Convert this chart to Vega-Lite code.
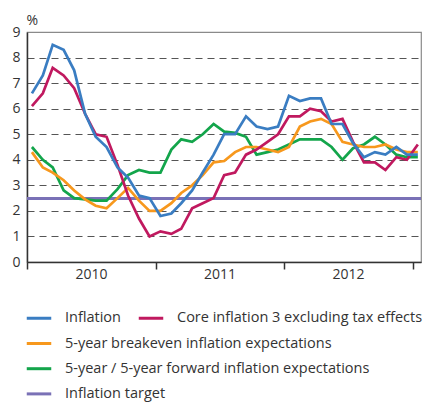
{
  "$schema": "https://vega.github.io/schema/vega-lite/v6.json",
  "width": 394,
  "height": 230,
  "autosize": {"type": "none"},
  "padding": {"left": 27, "top": 32, "right": 6, "bottom": 141},
  "config": {
    "font": "Open Sans",
    "view": {"stroke": "#8a8a8a", "strokeWidth": 1.2}
  },
  "datasets": {
    "series": [
      {"d": "2010-01-15", "s": "Core inflation 3 excluding tax effects", "v": 6.1},
      {"d": "2010-02-15", "s": "Core inflation 3 excluding tax effects", "v": 6.6},
      {"d": "2010-03-15", "s": "Core inflation 3 excluding tax effects", "v": 7.6},
      {"d": "2010-04-15", "s": "Core inflation 3 excluding tax effects", "v": 7.3},
      {"d": "2010-05-15", "s": "Core inflation 3 excluding tax effects", "v": 6.8},
      {"d": "2010-06-15", "s": "Core inflation 3 excluding tax effects", "v": 5.8},
      {"d": "2010-07-15", "s": "Core inflation 3 excluding tax effects", "v": 5.0},
      {"d": "2010-08-15", "s": "Core inflation 3 excluding tax effects", "v": 4.9},
      {"d": "2010-09-15", "s": "Core inflation 3 excluding tax effects", "v": 3.8},
      {"d": "2010-10-15", "s": "Core inflation 3 excluding tax effects", "v": 2.6},
      {"d": "2010-11-15", "s": "Core inflation 3 excluding tax effects", "v": 1.7},
      {"d": "2010-12-15", "s": "Core inflation 3 excluding tax effects", "v": 1.0},
      {"d": "2011-01-15", "s": "Core inflation 3 excluding tax effects", "v": 1.2},
      {"d": "2011-02-15", "s": "Core inflation 3 excluding tax effects", "v": 1.1},
      {"d": "2011-03-15", "s": "Core inflation 3 excluding tax effects", "v": 1.3},
      {"d": "2011-04-15", "s": "Core inflation 3 excluding tax effects", "v": 2.1},
      {"d": "2011-05-15", "s": "Core inflation 3 excluding tax effects", "v": 2.3},
      {"d": "2011-06-15", "s": "Core inflation 3 excluding tax effects", "v": 2.5},
      {"d": "2011-07-15", "s": "Core inflation 3 excluding tax effects", "v": 3.4},
      {"d": "2011-08-15", "s": "Core inflation 3 excluding tax effects", "v": 3.5},
      {"d": "2011-09-15", "s": "Core inflation 3 excluding tax effects", "v": 4.2},
      {"d": "2011-10-15", "s": "Core inflation 3 excluding tax effects", "v": 4.4},
      {"d": "2011-11-15", "s": "Core inflation 3 excluding tax effects", "v": 4.7},
      {"d": "2011-12-15", "s": "Core inflation 3 excluding tax effects", "v": 5.0},
      {"d": "2012-01-15", "s": "Core inflation 3 excluding tax effects", "v": 5.7},
      {"d": "2012-02-15", "s": "Core inflation 3 excluding tax effects", "v": 5.7},
      {"d": "2012-03-15", "s": "Core inflation 3 excluding tax effects", "v": 6.0},
      {"d": "2012-04-15", "s": "Core inflation 3 excluding tax effects", "v": 5.9},
      {"d": "2012-05-15", "s": "Core inflation 3 excluding tax effects", "v": 5.5},
      {"d": "2012-06-15", "s": "Core inflation 3 excluding tax effects", "v": 5.6},
      {"d": "2012-07-15", "s": "Core inflation 3 excluding tax effects", "v": 4.7},
      {"d": "2012-08-15", "s": "Core inflation 3 excluding tax effects", "v": 3.9},
      {"d": "2012-09-15", "s": "Core inflation 3 excluding tax effects", "v": 3.9},
      {"d": "2012-10-15", "s": "Core inflation 3 excluding tax effects", "v": 3.6},
      {"d": "2012-11-15", "s": "Core inflation 3 excluding tax effects", "v": 4.1},
      {"d": "2012-12-15", "s": "Core inflation 3 excluding tax effects", "v": 4.0},
      {"d": "2013-01-15", "s": "Core inflation 3 excluding tax effects", "v": 4.6},
      {"d": "2010-01-15", "s": "Inflation", "v": 6.6},
      {"d": "2010-02-15", "s": "Inflation", "v": 7.3},
      {"d": "2010-03-15", "s": "Inflation", "v": 8.5},
      {"d": "2010-04-15", "s": "Inflation", "v": 8.3},
      {"d": "2010-05-15", "s": "Inflation", "v": 7.5},
      {"d": "2010-06-15", "s": "Inflation", "v": 5.8},
      {"d": "2010-07-15", "s": "Inflation", "v": 4.9},
      {"d": "2010-08-15", "s": "Inflation", "v": 4.5},
      {"d": "2010-09-15", "s": "Inflation", "v": 3.7},
      {"d": "2010-10-15", "s": "Inflation", "v": 3.3},
      {"d": "2010-11-15", "s": "Inflation", "v": 2.6},
      {"d": "2010-12-15", "s": "Inflation", "v": 2.5},
      {"d": "2011-01-15", "s": "Inflation", "v": 1.8},
      {"d": "2011-02-15", "s": "Inflation", "v": 1.9},
      {"d": "2011-03-15", "s": "Inflation", "v": 2.3},
      {"d": "2011-04-15", "s": "Inflation", "v": 2.8},
      {"d": "2011-05-15", "s": "Inflation", "v": 3.5},
      {"d": "2011-06-15", "s": "Inflation", "v": 4.2},
      {"d": "2011-07-15", "s": "Inflation", "v": 5.0},
      {"d": "2011-08-15", "s": "Inflation", "v": 5.0},
      {"d": "2011-09-15", "s": "Inflation", "v": 5.7},
      {"d": "2011-10-15", "s": "Inflation", "v": 5.3},
      {"d": "2011-11-15", "s": "Inflation", "v": 5.2},
      {"d": "2011-12-15", "s": "Inflation", "v": 5.3},
      {"d": "2012-01-15", "s": "Inflation", "v": 6.5},
      {"d": "2012-02-15", "s": "Inflation", "v": 6.3},
      {"d": "2012-03-15", "s": "Inflation", "v": 6.4},
      {"d": "2012-04-15", "s": "Inflation", "v": 6.4},
      {"d": "2012-05-15", "s": "Inflation", "v": 5.4},
      {"d": "2012-06-15", "s": "Inflation", "v": 5.4},
      {"d": "2012-07-15", "s": "Inflation", "v": 4.65},
      {"d": "2012-08-15", "s": "Inflation", "v": 4.1},
      {"d": "2012-09-15", "s": "Inflation", "v": 4.3},
      {"d": "2012-10-15", "s": "Inflation", "v": 4.2},
      {"d": "2012-11-15", "s": "Inflation", "v": 4.5},
      {"d": "2012-12-15", "s": "Inflation", "v": 4.2},
      {"d": "2013-01-15", "s": "Inflation", "v": 4.2},
      {"d": "2010-01-15", "s": "5-year / 5-year forward inflation expectations", "v": 4.5},
      {"d": "2010-02-15", "s": "5-year / 5-year forward inflation expectations", "v": 4.0},
      {"d": "2010-03-15", "s": "5-year / 5-year forward inflation expectations", "v": 3.7},
      {"d": "2010-04-15", "s": "5-year / 5-year forward inflation expectations", "v": 2.8},
      {"d": "2010-05-15", "s": "5-year / 5-year forward inflation expectations", "v": 2.5},
      {"d": "2010-06-15", "s": "5-year / 5-year forward inflation expectations", "v": 2.45},
      {"d": "2010-07-15", "s": "5-year / 5-year forward inflation expectations", "v": 2.4},
      {"d": "2010-08-15", "s": "5-year / 5-year forward inflation expectations", "v": 2.4},
      {"d": "2010-09-15", "s": "5-year / 5-year forward inflation expectations", "v": 2.85},
      {"d": "2010-10-15", "s": "5-year / 5-year forward inflation expectations", "v": 3.4},
      {"d": "2010-11-15", "s": "5-year / 5-year forward inflation expectations", "v": 3.6},
      {"d": "2010-12-15", "s": "5-year / 5-year forward inflation expectations", "v": 3.5},
      {"d": "2011-01-15", "s": "5-year / 5-year forward inflation expectations", "v": 3.5},
      {"d": "2011-02-15", "s": "5-year / 5-year forward inflation expectations", "v": 4.4},
      {"d": "2011-03-15", "s": "5-year / 5-year forward inflation expectations", "v": 4.8},
      {"d": "2011-04-15", "s": "5-year / 5-year forward inflation expectations", "v": 4.7},
      {"d": "2011-05-15", "s": "5-year / 5-year forward inflation expectations", "v": 5.0},
      {"d": "2011-06-15", "s": "5-year / 5-year forward inflation expectations", "v": 5.4},
      {"d": "2011-07-15", "s": "5-year / 5-year forward inflation expectations", "v": 5.1},
      {"d": "2011-08-15", "s": "5-year / 5-year forward inflation expectations", "v": 5.05},
      {"d": "2011-09-15", "s": "5-year / 5-year forward inflation expectations", "v": 4.9},
      {"d": "2011-10-15", "s": "5-year / 5-year forward inflation expectations", "v": 4.2},
      {"d": "2011-11-15", "s": "5-year / 5-year forward inflation expectations", "v": 4.3},
      {"d": "2011-12-15", "s": "5-year / 5-year forward inflation expectations", "v": 4.4},
      {"d": "2012-01-15", "s": "5-year / 5-year forward inflation expectations", "v": 4.6},
      {"d": "2012-02-15", "s": "5-year / 5-year forward inflation expectations", "v": 4.8},
      {"d": "2012-03-15", "s": "5-year / 5-year forward inflation expectations", "v": 4.8},
      {"d": "2012-04-15", "s": "5-year / 5-year forward inflation expectations", "v": 4.8},
      {"d": "2012-05-15", "s": "5-year / 5-year forward inflation expectations", "v": 4.5},
      {"d": "2012-06-15", "s": "5-year / 5-year forward inflation expectations", "v": 4.0},
      {"d": "2012-07-15", "s": "5-year / 5-year forward inflation expectations", "v": 4.45},
      {"d": "2012-08-15", "s": "5-year / 5-year forward inflation expectations", "v": 4.6},
      {"d": "2012-09-15", "s": "5-year / 5-year forward inflation expectations", "v": 4.9},
      {"d": "2012-10-15", "s": "5-year / 5-year forward inflation expectations", "v": 4.6},
      {"d": "2012-11-15", "s": "5-year / 5-year forward inflation expectations", "v": 4.2},
      {"d": "2012-12-15", "s": "5-year / 5-year forward inflation expectations", "v": 4.1},
      {"d": "2013-01-15", "s": "5-year / 5-year forward inflation expectations", "v": 4.1},
      {"d": "2010-01-15", "s": "5-year breakeven inflation expectations", "v": 4.3},
      {"d": "2010-02-15", "s": "5-year breakeven inflation expectations", "v": 3.7},
      {"d": "2010-03-15", "s": "5-year breakeven inflation expectations", "v": 3.5},
      {"d": "2010-04-15", "s": "5-year breakeven inflation expectations", "v": 3.2},
      {"d": "2010-05-15", "s": "5-year breakeven inflation expectations", "v": 2.8},
      {"d": "2010-06-15", "s": "5-year breakeven inflation expectations", "v": 2.45},
      {"d": "2010-07-15", "s": "5-year breakeven inflation expectations", "v": 2.2},
      {"d": "2010-08-15", "s": "5-year breakeven inflation expectations", "v": 2.1},
      {"d": "2010-09-15", "s": "5-year breakeven inflation expectations", "v": 2.5},
      {"d": "2010-10-15", "s": "5-year breakeven inflation expectations", "v": 2.9},
      {"d": "2010-11-15", "s": "5-year breakeven inflation expectations", "v": 2.4},
      {"d": "2010-12-15", "s": "5-year breakeven inflation expectations", "v": 2.0},
      {"d": "2011-01-15", "s": "5-year breakeven inflation expectations", "v": 2.0},
      {"d": "2011-02-15", "s": "5-year breakeven inflation expectations", "v": 2.3},
      {"d": "2011-03-15", "s": "5-year breakeven inflation expectations", "v": 2.7},
      {"d": "2011-04-15", "s": "5-year breakeven inflation expectations", "v": 3.0},
      {"d": "2011-05-15", "s": "5-year breakeven inflation expectations", "v": 3.4},
      {"d": "2011-06-15", "s": "5-year breakeven inflation expectations", "v": 3.9},
      {"d": "2011-07-15", "s": "5-year breakeven inflation expectations", "v": 3.95},
      {"d": "2011-08-15", "s": "5-year breakeven inflation expectations", "v": 4.3},
      {"d": "2011-09-15", "s": "5-year breakeven inflation expectations", "v": 4.5},
      {"d": "2011-10-15", "s": "5-year breakeven inflation expectations", "v": 4.5},
      {"d": "2011-11-15", "s": "5-year breakeven inflation expectations", "v": 4.4},
      {"d": "2011-12-15", "s": "5-year breakeven inflation expectations", "v": 4.3},
      {"d": "2012-01-15", "s": "5-year breakeven inflation expectations", "v": 4.5},
      {"d": "2012-02-15", "s": "5-year breakeven inflation expectations", "v": 5.3},
      {"d": "2012-03-15", "s": "5-year breakeven inflation expectations", "v": 5.5},
      {"d": "2012-04-15", "s": "5-year breakeven inflation expectations", "v": 5.6},
      {"d": "2012-05-15", "s": "5-year breakeven inflation expectations", "v": 5.4},
      {"d": "2012-06-15", "s": "5-year breakeven inflation expectations", "v": 4.7},
      {"d": "2012-07-15", "s": "5-year breakeven inflation expectations", "v": 4.6},
      {"d": "2012-08-15", "s": "5-year breakeven inflation expectations", "v": 4.5},
      {"d": "2012-09-15", "s": "5-year breakeven inflation expectations", "v": 4.5},
      {"d": "2012-10-15", "s": "5-year breakeven inflation expectations", "v": 4.6},
      {"d": "2012-11-15", "s": "5-year breakeven inflation expectations", "v": 4.4},
      {"d": "2012-12-15", "s": "5-year breakeven inflation expectations", "v": 4.3},
      {"d": "2013-01-15", "s": "5-year breakeven inflation expectations", "v": 4.3}
    ]
  },
  "data": {"name": "series"},
  "encoding": {
    "x": {
      "field": "d",
      "type": "temporal",
      "scale": {
        "type": "utc",
        "domain": [{"year": 2010, "month": 1, "date": 1, "utc": true}, {"year": 2013, "month": 1, "date": 24, "utc": true}]
      },
      "axis": {
        "title": null,
        "values": [
          {"year": 2010, "month": 1, "date": 1, "utc": true},
          {"year": 2011, "month": 1, "date": 1, "utc": true},
          {"year": 2012, "month": 1, "date": 1, "utc": true},
          {"year": 2013, "month": 1, "date": 1, "utc": true}
        ],
        "labelExpr": "utcFormat(datum.value, '%Y') == '2013' ? '' : utcFormat(datum.value, '%Y')",
        "labelOffset": 64,
        "labelAlign": "center",
        "labelFlush": false,
        "labelOverlap": false,
        "labelPadding": -2,
        "labelFont": "Open Sans",
        "labelFontSize": 14,
        "labelColor": "#333333",
        "tickSize": 7,
        "tickColor": "#333333",
        "tickWidth": 1.5,
        "domainColor": "#333333",
        "domainWidth": 1.5,
        "grid": false
      }
    },
    "y": {
      "field": "v",
      "type": "quantitative",
      "scale": {"domain": [0, 9], "nice": false},
      "axis": {
        "title": "%",
        "titleAngle": 0,
        "titleAlign": "left",
        "titleBaseline": "alphabetic",
        "titleX": -1,
        "titleY": -8,
        "titleFont": "Open Sans",
        "titleFontSize": 14,
        "titleFontWeight": "normal",
        "titleColor": "#333333",
        "values": [0, 1, 2, 3, 4, 5, 6, 7, 8, 9],
        "labelOverlap": false,
        "ticks": false,
        "labelPadding": 7,
        "labelFont": "Open Sans",
        "labelFontSize": 14,
        "labelColor": "#333333",
        "domainColor": "#333333",
        "domainWidth": 1.5,
        "grid": true,
        "gridColor": "#555555",
        "gridDash": [7, 5],
        "gridWidth": 1.2,
        "gridOpacity": {"condition": {"test": "datum.value == 0 || datum.value == 9", "value": 0}, "value": 1}
      }
    }
  },
  "layer": [
    {
      "mark": {"type": "rule", "strokeWidth": 2.4},
      "encoding": {
        "x": null,
        "y": {"datum": 2.5, "type": "quantitative"},
        "stroke": {
          "datum": "Inflation target",
          "type": "nominal",
          "scale": {
            "domain": ["5-year breakeven inflation expectations", "5-year / 5-year forward inflation expectations", "Inflation target"],
            "range": ["#f7981d", "#13a54b", "#7a71b6"]
          },
          "legend": {
            "title": null, "orient": "none", "legendX": -2, "legendY": 297.5, "direction": "vertical",
            "symbolType": "stroke", "symbolSize": 600, "symbolStrokeWidth": 3,
            "labelFont": "Open Sans", "labelFontSize": 14.5, "labelColor": "#333333", "labelOffset": 12,
            "rowPadding": 4.2, "padding": 0, "labelLimit": 400
          }
        }
      }
    },
    {
      "transform": [{"filter": "datum.s == '5-year breakeven inflation expectations' || datum.s == '5-year / 5-year forward inflation expectations'"}],
      "mark": {"type": "line", "strokeWidth": 2.7},
      "encoding": {
        "stroke": {
          "field": "s",
          "type": "nominal",
          "legend": {
            "title": null, "orient": "none", "legendX": -2, "legendY": 297.5, "direction": "vertical",
            "symbolType": "stroke", "symbolSize": 600, "symbolStrokeWidth": 3,
            "labelFont": "Open Sans", "labelFontSize": 14.5, "labelColor": "#333333", "labelOffset": 12,
            "rowPadding": 4.2, "padding": 0, "labelLimit": 400
          }
        }
      }
    },
    {
      "transform": [{"filter": "datum.s == 'Inflation' || datum.s == 'Core inflation 3 excluding tax effects'"}],
      "mark": {"type": "line", "strokeWidth": 2.7},
      "encoding": {
        "color": {
          "field": "s",
          "type": "nominal",
          "scale": {
            "domain": ["Inflation", "Core inflation 3 excluding tax effects"],
            "range": ["#3a7dc2", "#c0195f"]
          },
          "legend": {
            "title": null, "orient": "none", "legendX": -2, "legendY": 272, "direction": "horizontal",
            "symbolType": "stroke", "symbolSize": 600, "symbolStrokeWidth": 3,
            "labelFont": "Open Sans", "labelFontSize": 14.5, "labelColor": "#333333", "labelOffset": 12,
            "columnPadding": 11, "padding": 0, "labelLimit": 400
          }
        }
      }
    }
  ]
}
